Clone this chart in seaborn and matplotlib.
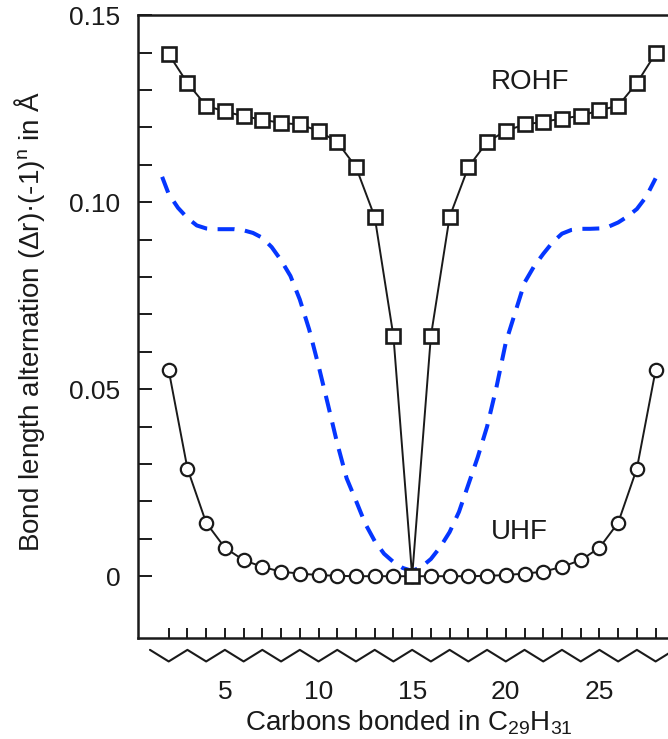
import numpy as np
import pandas as pd
import seaborn as sns
import matplotlib.pyplot as plt

# Data
carbons = list(range(2, 29))
rohf = [0.1396, 0.1319, 0.1258, 0.1243, 0.1230, 0.1221, 0.1212, 0.1208, 0.1191,
        0.1161, 0.1094, 0.0961, 0.0642, 0.0000, 0.0642, 0.0961, 0.1094, 0.1161,
        0.1191, 0.1208, 0.1215, 0.1224, 0.1231, 0.1246, 0.1258, 0.1319, 0.1398]
uhf = [0.0551, 0.0288, 0.0143, 0.0076, 0.0043, 0.0025, 0.0012, 0.0007, 0.0003,
       0.0001, 0.0000, 0.0000, 0.0000, 0.0000, 0.0000, 0.0000, 0.0000, 0.0001,
       0.0003, 0.0007, 0.0012, 0.0025, 0.0043, 0.0076, 0.0143, 0.0288, 0.0551]

# blue dashed curve, sampled along x
blue_x = [1.65, 2.0, 2.5, 3.0, 3.5, 4.0, 4.5, 5.0, 5.5, 6.0, 6.5, 7.0, 7.5, 8.0,
          8.5, 9.0, 9.5, 10.0, 10.5, 11.0, 11.5, 12.0, 12.5, 13.0, 13.5, 14.0,
          14.5, 15.0, 15.5, 16.0, 16.5, 17.0, 17.5, 18.0, 18.5, 19.0, 19.5, 20.0,
          20.5, 21.0, 21.5, 22.0, 22.5, 23.0, 23.5, 24.0, 24.5, 25.0, 25.5, 26.0,
          26.5, 27.0, 27.5, 28.0]
blue_y = [0.1068, 0.1022, 0.0985, 0.0958, 0.0938, 0.0930, 0.0928, 0.0928, 0.0928,
          0.0925, 0.0918, 0.0905, 0.0880, 0.0845, 0.0803, 0.0740, 0.0660, 0.0563,
          0.0460, 0.0355, 0.0262, 0.0202, 0.0140, 0.0094, 0.0060, 0.0038, 0.0022,
          0.0014, 0.0025, 0.0046, 0.0078, 0.0118, 0.0172, 0.0245, 0.0318, 0.0400,
          0.0505, 0.0625, 0.0705, 0.0785, 0.0828, 0.0862, 0.0893, 0.0916, 0.0926,
          0.0929, 0.0929, 0.0930, 0.0935, 0.0946, 0.0962, 0.0982, 0.1015, 0.1064]

# carbon chain drawn under the x axis (C1..C29)
chain = list(range(1, 30))

ytick_labels = ['0', '0.05', '0.10', '0.15']
xtick_labels = ['5', '10', '15', '20', '25']

sns.set_theme(style='ticks')
plt.rcParams['font.family'] = ['Liberation Sans', 'DejaVu Sans']
plt.rcParams['mathtext.fontset'] = 'custom'
plt.rcParams['mathtext.rm'] = 'Liberation Sans'
plt.rcParams['mathtext.it'] = 'Liberation Sans:italic'

ink = '#1a1a1a'
fig = plt.figure(figsize=(6.68, 7.39), dpi=100)
ax = fig.add_axes([0.206, 0.1363, 0.822, 0.843])

df_blue = pd.DataFrame({'x': blue_x, 'y': blue_y})
sns.lineplot(data=df_blue, x='x', y='y', ax=ax, color='#0536ff', lw=2.9,
             ls=(0, (4.2, 2.6)), estimator=None, sort=False, zorder=2)

df = pd.DataFrame({'carbon': carbons, 'ROHF': rohf, 'UHF': uhf})
sns.lineplot(data=df, x='carbon', y='UHF', ax=ax, color=ink, lw=1.4,
             marker='o', markersize=9.6, markerfacecolor='white',
             markeredgecolor=ink, markeredgewidth=1.6, estimator=None, zorder=3)
sns.lineplot(data=df, x='carbon', y='ROHF', ax=ax, color=ink, lw=1.4,
             marker='s', markersize=10.5, markerfacecolor='white',
             markeredgecolor=ink, markeredgewidth=1.9, estimator=None, zorder=4)

# zigzag chain below the axis
chain_y = np.where(np.array(chain) % 2 == 1, -0.0197, -0.0228)
ax.plot(chain, chain_y, color=ink, lw=1.5, clip_on=False)

ax.text(19.2, 0.1322, 'ROHF', fontsize=20, color=ink, ha='left', va='center')
ax.text(19.2, 0.0119, 'UHF', fontsize=20, color=ink, ha='left', va='center')

ax.set_xlim(0.34, 29.66)
ax.set_ylim(-0.0166, 0.15)

ax.set_yticks([0, 0.05, 0.10, 0.15])
ax.set_yticklabels(ytick_labels)
ax.set_yticks(np.arange(0, 0.151, 0.01), minor=True)
ax.set_xticks([5, 10, 15, 20, 25])
ax.set_xticklabels(xtick_labels)
ax.set_xticks(carbons, minor=True)

ax.tick_params(axis='y', which='both', direction='in', length=10, width=1.4,
               color=ink, labelsize=19, pad=12.5, labelcolor=ink)
ax.tick_params(axis='x', which='both', direction='in', length=7.2, width=1.4,
               color=ink, labelsize=19, pad=30, labelcolor=ink)

for side in ['left', 'bottom', 'top', 'right']:
    ax.spines[side].set_linewidth(1.8)
    ax.spines[side].set_color(ink)

ax.set_xlabel('Carbons bonded in C$_{29}$H$_{31}$', fontsize=20, color=ink)
ax.set_ylabel('Bond length alternation (Δr)·(-1)$^{\\mathrm{n}}$ in Å',
              fontsize=20, color=ink)
ax.xaxis.set_label_coords(0.4936, -0.113)
ax.yaxis.set_label_coords(-0.1656, 0.5093)

plt.savefig('out.png', dpi=100)
